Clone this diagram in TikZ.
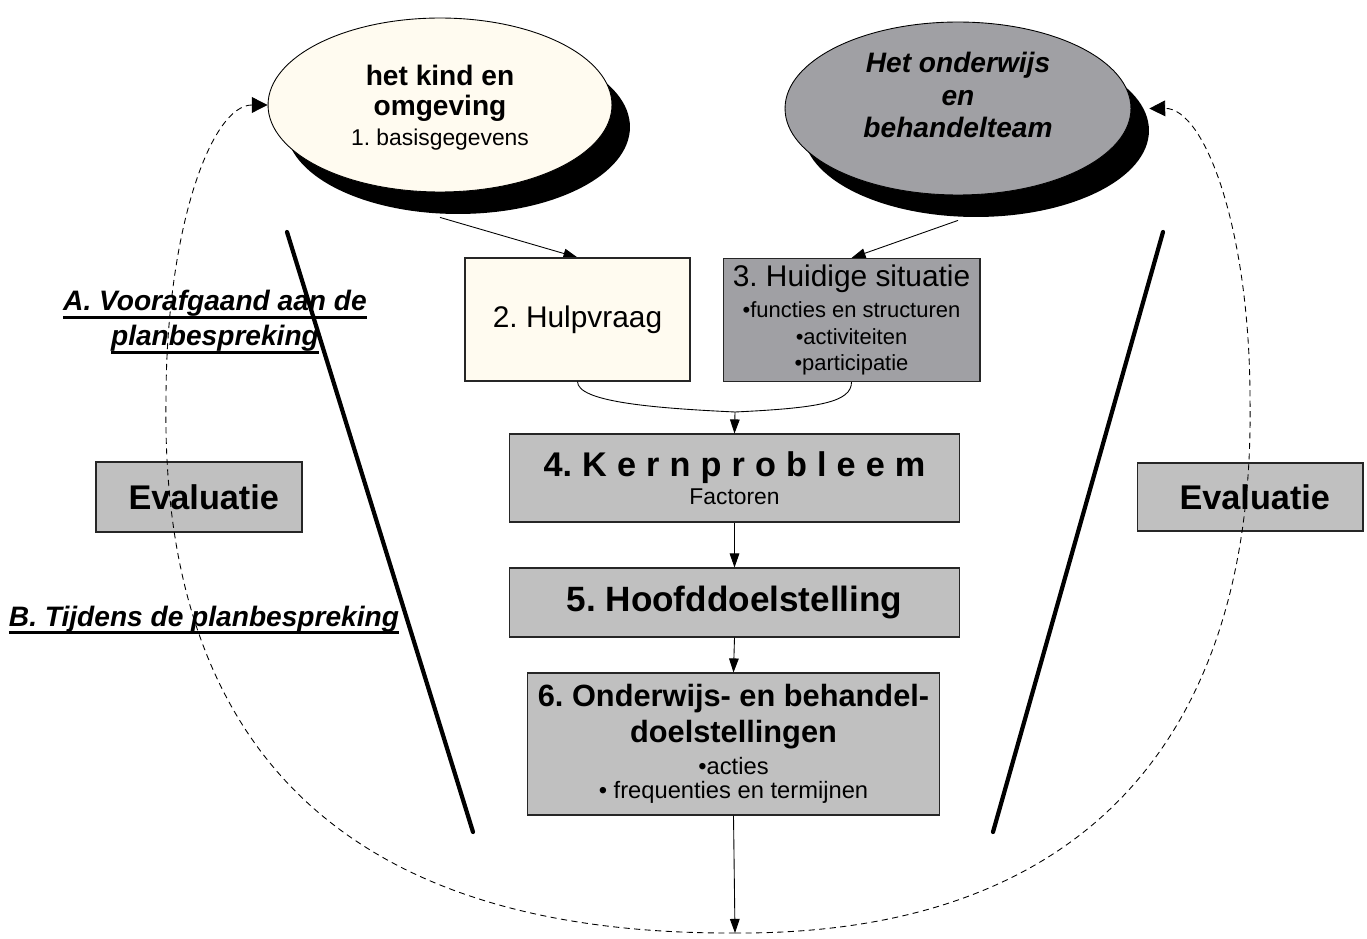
\documentclass[tikz,border=0pt]{standalone}
\usepackage{fontspec}
\setmainfont{Liberation Sans}
\usepackage{xcolor}
\usepackage{tikz}
\usetikzlibrary{shapes.geometric, shadows, backgrounds, arrows.meta}

\definecolor{kindcream}{HTML}{FFFBF0}
\definecolor{teamgrey}{HTML}{A0A0A4}
\definecolor{boxgrey}{HTML}{C0C0C0}

\frenchspacing
% thick underline for the two phase titles
\newcommand{\ulphase}[1]{\setbox0\hbox{#1}\leavevmode\rlap{\rule[-4.5pt]{\wd0}{1.6pt}}\box0}

\begin{document}
\begin{tikzpicture}[
                x=0.02cm, y=-0.02cm,
                blob/.style={ellipse, draw=black, line width=0.5pt, inner sep=0pt,
                    general shadow={fill=black, shadow xshift=0.36cm, shadow yshift=-0.44cm}},
                box/.style={draw=black!85, line width=0.6pt, fill=boxgrey, align=center, inner sep=0pt},
                arr/.style={-{Triangle[length=8pt, width=5.5pt]}, line width=0.5pt},
                loopback/.style={dash pattern=on 3.5pt off 2.5pt, line width=0.5pt,
                    -{Triangle[length=9pt, width=9pt]}},
                phase/.style={align=center, font=\fontsize{16pt}{20pt}\selectfont\bfseries\itshape},
                vline/.style={line width=2.4pt, line cap=round}
            ]
                \useasboundingbox (0,0) rectangle (1367,939);

                % the two starting points
                \node[blob, fill=kindcream, minimum width=6.88cm, minimum height=3.48cm,
                    label={[align=center, yshift=-0.06cm,
                        font=\fontsize{16pt}{17pt}\selectfont\bfseries]center:het kind en\\omgeving\\
                        {\mdseries\fontsize{13pt}{15pt}\selectfont 1. basisgegevens}}]
                    (kind) at (440,105) {};
                \node[blob, fill=teamgrey, minimum width=6.92cm, minimum height=3.46cm,
                    label={[align=center, yshift=0.27cm,
                        font=\fontsize{16pt}{18.5pt}\selectfont\bfseries\itshape]center:Het onderwijs\\en\\behandelteam}]
                    (team) at (958,108.5) {};

                % the steps
                \node[box, fill=kindcream, minimum width=4.5cm, minimum height=2.46cm,
                    font=\fontsize{17pt}{20pt}\selectfont] (hulp) at (577.5,319.5) {2. Hulpvraag};
                \node[box, fill=teamgrey, minimum width=5.14cm, minimum height=2.46cm,
                    font=\fontsize{12.5pt}{15pt}\selectfont] (huid) at (851.5,320)
                    {{\fontsize{17pt}{20pt}\selectfont 3. Huidige situatie}\\[3pt]
                    •functies en structuren\\•activiteiten\\•participatie};
                \node[box, minimum width=9.02cm, minimum height=1.76cm,
                    font=\fontsize{13pt}{15pt}\selectfont] (kern) at (734.5,478)
                    {{\fontsize{19.5pt}{22pt}\selectfont\bfseries\makebox[7.64cm][s]{4. K e r n p r o b l e e m}}\\[1pt]
                    Factoren};
                \node[box, minimum width=9.02cm, minimum height=1.38cm,
                    font=\fontsize{20pt}{24pt}\selectfont\bfseries] (hoofd) at (734.5,602.5) {5. Hoofddoelstelling};
                \node[box, minimum width=8.26cm, minimum height=2.84cm,
                    font=\fontsize{13.5pt}{14pt}\selectfont] (doel) at (733.5,744)
                    {{\fontsize{17.5pt}{19pt}\selectfont\bfseries 6. Onderwijs- en behandel-}\\[3pt]
                    {\fontsize{17.5pt}{19pt}\selectfont\bfseries doelstellingen}\\[4pt]
                    •acties\\• frequenties en termijnen};

                % evaluation on both sides
                \node[box, minimum width=4.12cm, minimum height=1.4cm,
                    font=\fontsize{19.5pt}{22pt}\selectfont\bfseries] (evalL) at (199,497) {\ Evaluatie};
                \node[box, minimum width=4.52cm, minimum height=1.36cm,
                    font=\fontsize{19.5pt}{22pt}\selectfont\bfseries] (evalR) at (1250,497) {\ Evaluatie};

                \node[phase] (phaseA) at (215,322) {\ulphase{A. Voorafgaand aan de}\\\ulphase{planbespreking}};
                \node[phase] (phaseB) at (204,620) {\ulphase{B. Tijdens de planbespreking}};

                \draw[vline] (287,232) -- (473,832);
                \draw[vline] (1163,232) -- (993,832);

                \coordinate (meet) at (735,412);
                \coordinate (loop) at (735,933);

                \begin{scope}[on background layer]
                    \draw[arr] ([yshift=-0.5cm]kind.south) -- (hulp.north);
                    \draw[arr] ([yshift=-0.5cm]team.south) -- (huid.north);
                \end{scope}

                \draw[line width=0.5pt] (hulp.south) .. controls +(0,20) and +(-85,-4) .. (meet);
                \draw[line width=0.5pt] (huid.south) .. controls +(0,20) and +(85,-4) .. (meet);
                \draw[arr] (meet) -- (kern.north);
                \draw[arr] (kern.south) -- (hoofd.north);
                \draw[arr] (hoofd.south) -- (doel.north);
                \draw[arr] (doel.south) -- (loop);

                % back to the start
                \draw[loopback] (loop) .. controls (316,935) and (161,720) .. (166,400)
                    .. controls (166,230) and (211,105) .. (kind.west);
                \draw[loopback] (loop) .. controls (1100,935) and (1255,720) .. (1250,400)
                    .. controls (1250,230) and (1205,108) .. ([xshift=0.36cm]team.east);
            \end{tikzpicture}
\end{document}
